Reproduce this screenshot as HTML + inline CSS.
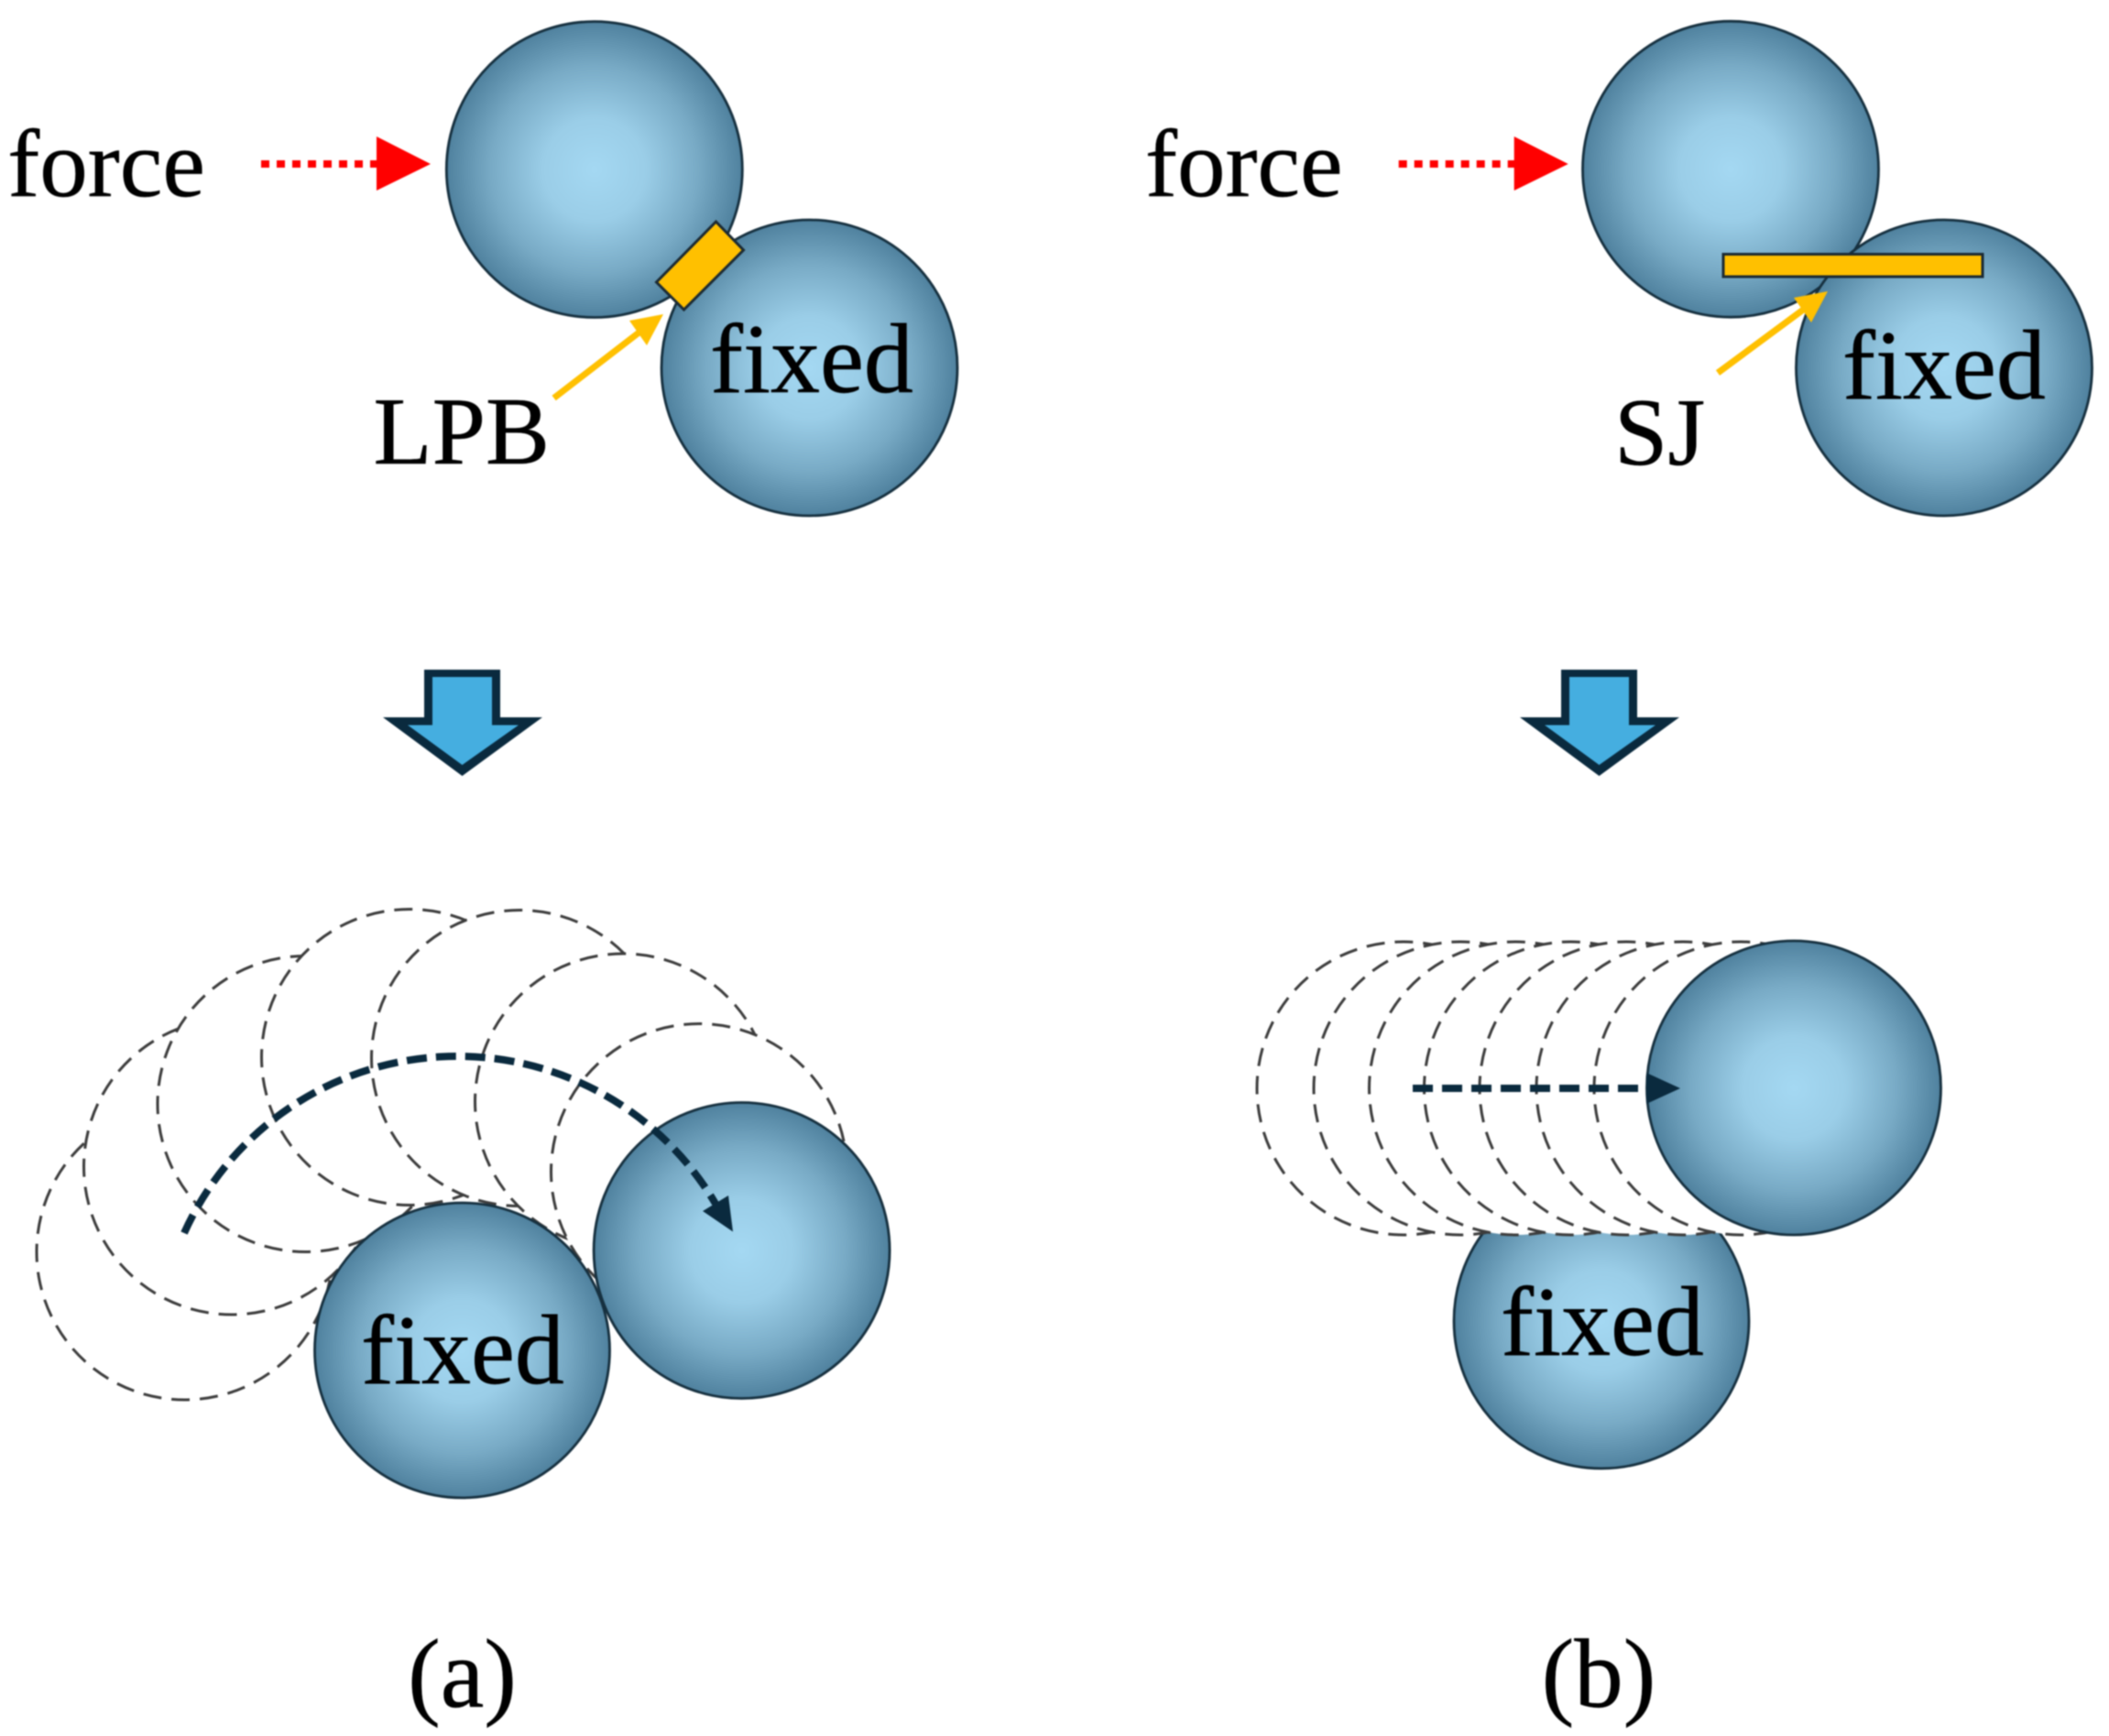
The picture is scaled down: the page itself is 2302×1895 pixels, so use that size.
<!DOCTYPE html>
<html><head><meta charset="utf-8"><style>
html,body{margin:0;padding:0;background:#fff;width:2302px;height:1895px;overflow:hidden}
svg{display:block;filter:blur(0.8px)}
text{font-family:"Liberation Serif",serif;font-size:105px;fill:#000;stroke:#000;stroke-width:0.5}
.f{font-size:108px}
.c{font-size:107px}
.b{fill:url(#g);stroke:#16303f;stroke-width:2.8}
.d{fill:#fff;stroke:#3c3c3c;stroke-width:3;stroke-dasharray:20 11}
</style></head><body>
<svg width="2302" height="1895" viewBox="0 0 2302 1895" xmlns="http://www.w3.org/2000/svg">
<defs>
<radialGradient id="g" cx="50%" cy="50%" r="50%">
<stop offset="0" stop-color="#a4d8f2"/><stop offset="0.35" stop-color="#9acde7"/><stop offset="0.7" stop-color="#78aac5"/><stop offset="1" stop-color="#4f819e"/>
</radialGradient>
<g id="da"><polygon points="463,731 546,731 546,783 592,783 504.5,847 418,783 463,783" fill="#0a2a3e"/><polygon points="472,739 537,739 537,791.5 566,791.5 504.5,835 445,791.5 472,791.5" fill="#45aee0"/></g>
</defs>
<rect width="2302" height="1895" fill="#fff"/>

<!-- top left -->
<circle class="b" cx="648.8" cy="185" r="161.5"/>
<circle class="b" cx="883.5" cy="401.5" r="161.5"/>
<polygon points="781.5,242 811.5,273 746.5,338 716.5,308" fill="#ffc000" stroke="#1b2a33" stroke-width="3"/>
<text x="8.3" y="214">force</text>
<text class="f" x="775" y="428">fixed</text>
<text x="407.5" y="506">LPB</text>
<line x1="285" y1="179" x2="414" y2="179" stroke="#f00" stroke-width="8" stroke-dasharray="9 8"/>
<polygon points="411,149 470,179 411,208" fill="#f00"/>
<line x1="604.6" y1="434.5" x2="700" y2="361" stroke="#ffc000" stroke-width="7"/>
<polygon points="724,343 687,350 706,377" fill="#ffc000"/>

<!-- top right -->
<circle class="b" cx="1889" cy="184.7" r="161.5"/>
<circle class="b" cx="2122" cy="401.5" r="161.5"/>
<rect x="1881" y="277.5" width="283" height="24.5" fill="#ffc000" stroke="#1b2a33" stroke-width="3"/>
<text x="1250" y="214">force</text>
<text class="f" x="2011" y="435">fixed</text>
<text x="1762" y="507">SJ</text>
<line x1="1526.7" y1="179" x2="1656" y2="179" stroke="#f00" stroke-width="8" stroke-dasharray="9 8"/>
<polygon points="1652.7,149 1711.7,179 1652.7,208" fill="#f00"/>
<line x1="1875" y1="407" x2="1971" y2="336" stroke="#ffc000" stroke-width="7"/>
<polygon points="1995,318 1958,325 1977,352" fill="#ffc000"/>

<!-- block arrows -->
<use href="#da"/>
<use href="#da" x="1241"/>

<!-- bottom left -->
<circle class="d" cx="201.5" cy="1366.5" r="161.5"/>
<circle class="d" cx="253" cy="1273.5" r="161.5"/>
<circle class="d" cx="333.5" cy="1205" r="161.5"/>
<circle class="d" cx="447" cy="1154" r="161.5"/>
<circle class="d" cx="567" cy="1155" r="161.5"/>
<circle class="d" cx="680" cy="1202.5" r="161.5"/>
<circle class="d" cx="763" cy="1279" r="161.5"/>
<circle class="b" cx="504.5" cy="1474" r="161"/>
<circle class="b" cx="809.6" cy="1365" r="161.5"/>
<text class="f" x="394" y="1510">fixed</text>
<path d="M201,1346 A327,327 0 0 1 781,1314" fill="none" stroke="#0a2a3e" stroke-width="8" stroke-dasharray="22 10"/>
<polygon points="800,1344.5 767,1322 795,1305" fill="#0a2a3e"/>

<!-- bottom right -->
<circle class="b" cx="1748" cy="1442" r="161"/>
<circle class="d" cx="1532" cy="1188" r="160"/>
<circle class="d" cx="1594" cy="1188" r="160"/>
<circle class="d" cx="1654.5" cy="1188" r="160"/>
<circle class="d" cx="1714.5" cy="1188" r="160"/>
<circle class="d" cx="1775" cy="1188" r="160"/>
<circle class="d" cx="1837" cy="1188" r="160"/>
<circle class="d" cx="1900" cy="1188" r="160"/>
<circle class="b" cx="1958" cy="1187.5" r="160.5"/>
<text class="f" x="1638" y="1479">fixed</text>
<line x1="1542" y1="1188" x2="1800" y2="1188" stroke="#0a2a3e" stroke-width="8" stroke-dasharray="22 10"/>
<polygon points="1797,1171 1834,1188 1797,1205" fill="#0a2a3e"/>

<!-- captions -->
<text class="c" x="504.5" y="1863" text-anchor="middle">(a)</text>
<text class="c" x="1745" y="1863" text-anchor="middle">(b)</text>
</svg>
</body></html>
